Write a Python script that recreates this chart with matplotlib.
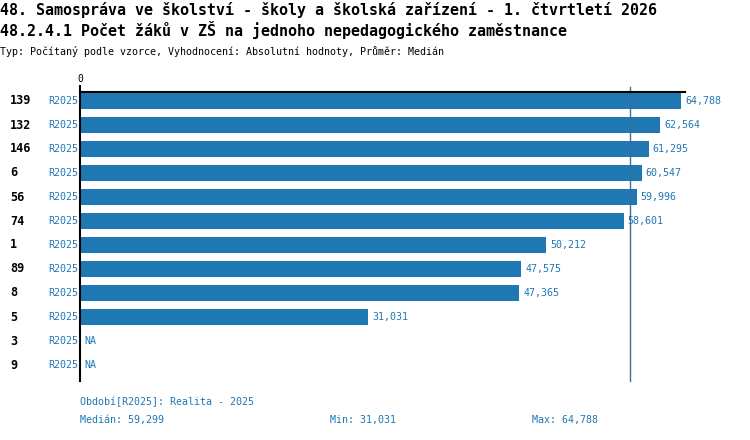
"""Počet žáků v ZŠ na jednoho nepedagogického zaměstnance - bar chart."""
import numpy as np
from matplotlib import pyplot as plt

# data
ids = ['139', '132', '146', '6', '56', '74', '1', '89', '8', '5', '3', '9']
period = 'R2025'
values = [64788, 62564, 61295, 60547, 59996, 58601,
          50212, 47575, 47365, 31031, np.nan, np.nan]
median = 59299
v_min = 31031
v_max = 64788

title_1 = '48. Samospráva ve školství - školy a školská zařízení - 1. čtvrtletí 2026'
title_2 = '48.2.4.1 Počet žáků v ZŠ na jednoho nepedagogického zaměstnance'
subtitle = 'Typ: Počítaný podle vzorce, Vyhodnocení: Absolutní hodnoty, Průměr: Medián'

W, H = 750, 440
BLUE = '#1f77b4'
MONO = 'DejaVu Sans Mono'


def fx(px):
    return px / W


def fy(py):
    return 1 - py / H


fig = plt.figure(figsize=(7.5, 4.4), dpi=100)
ax = fig.add_axes([fx(80), fy(381), fx(605), (381 - 92) / H])

rows = np.arange(len(ids))
vals = np.array(values, dtype=float)
ax.barh(rows, np.nan_to_num(vals), height=0.67, color=BLUE)

ax.set_xlim(0, 65220)
ax.set_ylim(11.667, -0.375)

for s in ['right', 'bottom']:
    ax.spines[s].set_visible(False)
ax.spines['left'].set_linewidth(1.5)
ax.spines['top'].set_linewidth(1.5)

ax.set_yticks([])
ax.xaxis.tick_top()
ax.set_xticks([0])
ax.set_xticklabels(['0'], fontfamily=MONO, fontsize=7)
ax.tick_params(axis='x', length=5, width=1.5, pad=1)

# median line
ax.plot([median, median], [11.667, -0.58], color='#3a6f9a', lw=1,
        clip_on=False)

for i, v in enumerate(vals):
    label = 'NA' if np.isnan(v) else f'{v:,.0f}'
    xv = 0 if np.isnan(v) else v
    ax.annotate(label, (xv, i), xytext=(3, 0), textcoords='offset points',
                va='center', ha='left', color=BLUE, fontfamily=MONO,
                fontsize=7.2, annotation_clip=False)
    fig.text(fx(10), fy(101 + 24 * i), ids[i], ha='left', va='center',
             fontfamily=MONO, fontweight='bold', fontsize=8.5)
    fig.text(fx(78), fy(101 + 24 * i), period, ha='right', va='center',
             fontfamily=MONO, fontsize=7.2, color=BLUE)

fig.text(0, fy(10), title_1, ha='left', va='center', fontfamily=MONO,
         fontweight='bold', fontsize=10.8)
fig.text(0, fy(30), title_2, ha='left', va='center', fontfamily=MONO,
         fontweight='bold', fontsize=10.8)
fig.text(0, fy(51), subtitle, ha='left', va='center', fontfamily=MONO,
         fontsize=7.2)

fig.text(fx(80), fy(402), f'Období[{period}]: Realita - 2025', ha='left',
         va='center', fontfamily=MONO, fontsize=7.2, color=BLUE)
fig.text(fx(80), fy(420), f'Medián: {median:,}', ha='left', va='center',
         fontfamily=MONO, fontsize=7.2, color=BLUE)
fig.text(fx(330), fy(420), f'Min: {v_min:,}', ha='left', va='center',
         fontfamily=MONO, fontsize=7.2, color=BLUE)
fig.text(fx(532), fy(420), f'Max: {v_max:,}', ha='left', va='center',
         fontfamily=MONO, fontsize=7.2, color=BLUE)

fig.savefig('out.png', dpi=100)
